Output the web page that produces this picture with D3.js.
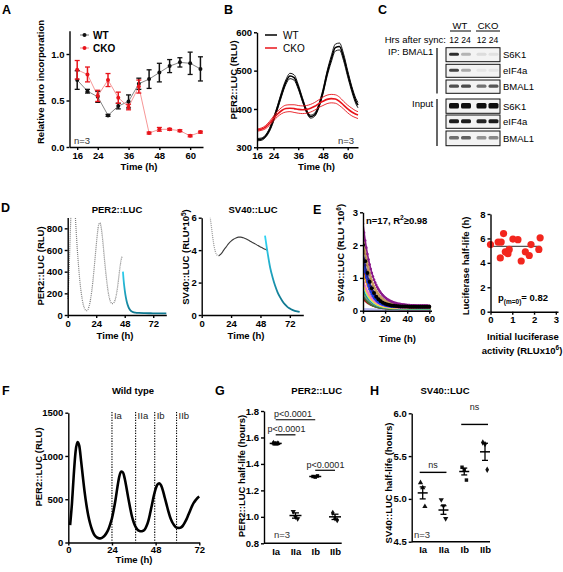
<!DOCTYPE html>
<html><head><meta charset="utf-8">
<script src="https://cdn.jsdelivr.net/npm/d3@7"></script>
<style>
body{margin:0;background:#fff}
.ax path,.ax line{stroke:#000;stroke-width:1.4}
.ax text{font-family:"Liberation Sans",Arial,sans-serif;font-weight:bold;font-size:9.5px;fill:#000}
</style>
</head><body><svg id="c" width="563" height="572"></svg>
<script>
// ---------- Panel A ----------
const aTime = [16,20,24,28,32,36,40,44,48,52,56,60,64];
const aWT = [0.72,0.60,0.54,0.34,0.44,0.49,0.68,0.73,0.80,0.87,0.91,0.90,0.84];
const aWTerr = [0.10,0.02,0.06,0.01,0.03,0.07,0.06,0.10,0.10,0.07,0.05,0.12,0.13];
const aCKO = [0.83,0.78,0.55,0.72,0.53,0.43,0.65,0.15,0.19,0.19,0.175,0.12,0.16];
const aCKOerr = [0.10,0.08,0.06,0.07,0.06,0.03,0.07,0.01,0.02,0.01,0.01,0.01,0.01];
const aXTicks = [16,24,36,48,60];
const aYTicks = [0,0.5,1.0];
// ---------- Panel B ----------
const bTime = [16,18,20,22,24,26,28,30,32,34,36,38,40,42,44,46,48,50,52,54,56,58,60,62,64,65];
const bWT = [320,321,328,345,372,405,440,470,486,482,458,425,395,380,385,408,445,492,530,560,563,535,492,452,420,410];
const bWTsem = [3,3,3,4,5,5,6,6,7,7,6,5,4,4,4,5,6,7,8,9,9,9,8,7,7,7];
const bCKO = [345,347,352,362,375,387,396,401,402,401,399,398,399,402,407,414,420,425,427,426,420,410,400,392,386,384];
const bCKOsem = [3,3,4,5,6,7,8,9,9,10,10,10,10,10,10,10,11,11,11,11,11,10,10,10,9,9];
const bXTicks = [16,24,36,48,60];
const bYTicks = [300,400,500,600];
// ---------- Panel C (band intensities, lanes WT12, WT24, CKO12, CKO24) ----------
const cRows = ["S6K1","eIF4a","BMAL1","S6K1","eIF4a","BMAL1"];
const cIntensity = [
  [0.85,0.25,0.07,0.05],
  [0.75,0.30,0.03,0.03],
  [0.70,0.72,0.55,0.68],
  [1.00,1.00,1.00,1.00],
  [0.92,0.92,0.88,0.92],
  [0.55,0.62,0.40,0.45]
];
const cLanes = ["12","24","12","24"];
// ---------- Panel D ----------
const dlT = [0,1,2,3,4,5,6,7,8,9,10,11,12,13,14,15,16,17,18,19,20,21,22,23,24,25,26,27,28,29,30,31,32,33,34,35,36,37,38,39,40,41,42,43,44,45,46];
const dlV = [150,350,700,1000,1200,1200,1000,800,620,470,340,240,160,100,65,45,40,50,80,130,200,290,400,520,640,750,830,850,820,740,630,510,400,300,220,160,125,108,105,115,140,190,260,350,440,510,545];
const dlDecayT = [46.5,47,48,49,50,51,52,53,54,55,57,60,65,70,75,83];
const dlDecayV = [400,330,230,160,110,78,55,40,32,27,22,19,17,16,15,15];
const drGrayT = [6.5,7,8,9,10,11,12,13,14];
const drGrayV = [6.4,6.0,5.4,4.8,4.3,3.95,3.75,3.67,3.65];
const drDarkT = [14,16,18,20,22,24,26,28,30,32,34,36,38,40,42,44,46,48,50,52,53.5];
const drDarkV = [3.65,3.78,4.0,4.2,4.4,4.55,4.67,4.75,4.8,4.8,4.76,4.7,4.62,4.53,4.45,4.37,4.28,4.2,4.12,4.05,4.0];
const drDecayT = [51.7,53,54,55,56,58,60,62,64,66,68,70,72,74,76,78,80];
const drDecayV = [4.9,4.25,3.75,3.3,2.9,2.3,1.8,1.4,1.1,0.85,0.65,0.5,0.4,0.32,0.26,0.22,0.19];
// ---------- Panel E ----------
const eInitAct = [0.0,0.35,0.45,0.49,0.6,0.68,0.75,0.8,0.86,1.03,1.26,1.41,1.6,1.78,1.86,2.22,2.28];
const eHalfLife = [5.5,5.7,4.4,5.7,6.4,4.9,4.85,4.75,5.1,5.95,5.9,4.15,4.9,4.6,5.5,5.1,6.05];
const eStart = [0.03,0.38,0.5,0.55,0.63,0.7,0.8,0.88,0.95,1.2,1.4,1.6,1.8,2.0,2.2,2.45,2.65];
const ePlateau = [0.02,0.05,0.06,0.06,0.07,0.07,0.08,0.08,0.09,0.1,0.1,0.11,0.12,0.12,0.13,0.14,0.15];
const eColors = ["#b8b8f2","#a81515","#3a7a3a","#8a8a8a","#22dd22","#20a0a0","#80d0f0","#f0f020","#f080c0","#f5a020","#ee2222","#1a3be8","#202080","#000000","#a06a3a","#c8a060","#8a1a8a"];
const eFitHL = 5.35;
// ---------- Panel F ----------
const fT = [1,2,3,4,5,6,7,8,9,10,11,12,13,14,15,16,17,18,19,20,21,22,23,24,25,26,27,28,29,30,31,32,33,34,35,36,37,38,39,40,41,42,43,44,45,46,47,48,49,50,51,52,53,54,55,56,57,58,59,60,61,62,63,64,65,66,67,68,69,70,71,72];
const fV = [200,450,780,1050,1160,1120,950,760,580,430,310,220,150,100,70,55,48,50,60,80,110,150,210,280,380,500,640,760,820,810,740,630,510,400,300,230,180,150,135,130,135,150,190,250,340,440,540,620,670,685,660,600,520,440,360,290,240,205,180,170,168,175,195,230,270,320,370,420,460,490,515,530];
const fPhases = ["Ia","IIa","Ib","IIb"];
const fPhaseT = [24,37,47.5,59.5];
// ---------- Panels G, H ----------
const ghCats = ["Ia","IIa","Ib","IIb"];
const gMean = [1.555,1.01,1.305,1.0];
const gErr = [0.01,0.02,0.004,0.02];
const gPts = [[1.56,1.55,1.555],[1.04,1.00,0.985],[1.305,1.30,1.31],[1.03,0.99,0.975]];
const hMean = [5.07,4.87,5.32,5.55];
const hErr = [0.07,0.05,0.04,0.1];
const hPts = [[5.19,5.13,4.91],[4.99,4.92,4.77],[5.37,5.34,5.22],[5.66,5.64,5.34]];

// =====================================================
const svg = d3.select('#c');
svg.append('rect').attr('width',563).attr('height',572).attr('fill','#fff');
const FONT = '"Liberation Sans", Arial, Helvetica, sans-serif';
function label(x,y,s,o={}){
  return svg.append('text').attr('x',x).attr('y',y).attr('font-family',FONT)
    .attr('font-size',o.size||9.5).attr('font-weight',o.bold===false?'normal':'bold')
    .attr('text-anchor',o.anchor||'start').attr('fill',o.fill||'#000').text(s);
}
function ylabel(cx,cy,s,o={}){
  return svg.append('text').attr('transform',`translate(${cx},${cy}) rotate(-90)`).attr('dy','0.35em')
    .attr('font-family',FONT).attr('font-size',o.size||9.5).attr('font-weight','bold')
    .attr('text-anchor','middle').text(s);
}
function axes(x,y,xt,yt,xf,yf,pad){
  const xa=d3.axisBottom(x).tickValues(xt).tickSize(3).tickSizeOuter(0).tickPadding(pad??2);
  if(xf) xa.tickFormat(xf);
  svg.append('g').attr('class','ax').attr('transform',`translate(0,${y.range()[0]})`).call(xa);
  const ya=d3.axisLeft(y).tickValues(yt).tickSize(3).tickSizeOuter(0).tickPadding(2);
  if(yf) ya.tickFormat(yf);
  svg.append('g').attr('class','ax').attr('transform',`translate(${x.range()[0]},0)`).call(ya);
}
function letter(x,y,s){ label(x,y,s,{size:12.5}); }
const defs = svg.append('defs');
defs.append('filter').attr('id','blur').append('feGaussianBlur').attr('stdDeviation',0.6);

// ---------------- A ----------------
{
  const x=d3.scaleLinear([13,65],[69.5,203]);
  const y=d3.scaleLinear([0,1.25],[147,30.75]);
  letter(2,13.5,'A');
  const line=d3.line().x((d,i)=>x(aTime[i])).y(d=>y(d));
  svg.append('path').attr('d',line(aWT)).attr('fill','none').attr('stroke','#777').attr('stroke-width',0.9);
  svg.append('path').attr('d',line(aCKO)).attr('fill','none').attr('stroke','#f58a8a').attr('stroke-width',0.9);
  const drawErr=(vals,errs,col)=>{
    vals.forEach((v,i)=>{
      const xx=x(aTime[i]);
      svg.append('line').attr('x1',xx).attr('x2',xx).attr('y1',y(v-errs[i])).attr('y2',y(v+errs[i])).attr('stroke',col).attr('stroke-width',1.5);
      [v-errs[i],v+errs[i]].forEach(e=>svg.append('line').attr('x1',xx-2.5).attr('x2',xx+2.5).attr('y1',y(e)).attr('y2',y(e)).attr('stroke',col).attr('stroke-width',1.3));
      svg.append('circle').attr('cx',xx).attr('cy',y(v)).attr('r',2).attr('fill',col);
    });
  };
  drawErr(aWT,aWTerr,'#111');
  drawErr(aCKO,aCKOerr,'#e8141b');
  axes(x,y,aXTicks,aYTicks,d3.format('d'),d3.format('.1f'));
  svg.append('line').attr('x1',80).attr('x2',89).attr('y1',35).attr('y2',35).attr('stroke','#777');
  svg.append('circle').attr('cx',84.5).attr('cy',35).attr('r',2).attr('fill','#111');
  label(93,38.5,'WT',{size:10});
  svg.append('line').attr('x1',80).attr('x2',89).attr('y1',48).attr('y2',48).attr('stroke','#f58a8a');
  svg.append('circle').attr('cx',84.5).attr('cy',48).attr('r',2).attr('fill','#e8141b');
  label(93,51.5,'CKO',{size:10});
  label(74,144,'n=3',{bold:false,fill:'#333'});
  ylabel(41,82,'Relative puro incorporation');
  label(139,170,'Time (h)',{anchor:'middle'});
}
// ---------------- B ----------------
{
  const x=d3.scaleLinear([16,65],[257,358]);
  const y=d3.scaleLinear([300,600],[147.3,32.3]);
  letter(224,13.5,'B');
  const mk=(vals,sem,sign)=>d3.line().curve(d3.curveMonotoneX).x((d,i)=>x(bTime[i])).y((d,i)=>y(vals[i]+sign*sem[i]))(vals);
  [[bWT,bWTsem,'#000'],[bCKO,bCKOsem,'#e8141b']].forEach(([v,s,c])=>{
    svg.append('path').attr('d',mk(v,s,1)).attr('fill','none').attr('stroke',c).attr('stroke-width',0.9);
    svg.append('path').attr('d',mk(v,s,-1)).attr('fill','none').attr('stroke',c).attr('stroke-width',0.9);
    svg.append('path').attr('d',mk(v,s,0)).attr('fill','none').attr('stroke',c).attr('stroke-width',1.6);
  });
  axes(x,y,bXTicks,bYTicks,d3.format('d'),d3.format('d'));
  svg.append('line').attr('x1',265).attr('x2',277).attr('y1',35).attr('y2',35).attr('stroke','#000').attr('stroke-width',1.5);
  label(283,38.5,'WT',{bold:false,size:10});
  svg.append('line').attr('x1',265).attr('x2',277).attr('y1',48).attr('y2',48).attr('stroke','#e8141b').attr('stroke-width',1.5);
  label(283,51.5,'CKO',{bold:false,size:10});
  label(354,144,'n=3',{bold:false,anchor:'end',fill:'#333'});
  ylabel(234,80,'PER2::LUC (RLU)');
  label(316.5,170,'Time (h)',{anchor:'middle'});
}
// ---------------- C ----------------
{
  letter(378,13.5,'C');
  const lx=[454,466,481.5,493.5];
  label(460,28.5,'WT',{bold:false,anchor:'middle'});
  label(488,28.5,'CKO',{bold:false,anchor:'middle'});
  svg.append('line').attr('x1',450).attr('x2',471).attr('y1',31).attr('y2',31).attr('stroke','#000');
  svg.append('line').attr('x1',476).attr('x2',500).attr('y1',31).attr('y2',31).attr('stroke','#000');
  label(446,43,'Hrs after sync:',{bold:false,anchor:'end'});
  cLanes.forEach((s,i)=>label(lx[i],43,s,{bold:false,anchor:'middle',size:8.6}));
  label(388,55,'IP: BMAL1',{bold:false});
  label(412,107,'Input',{bold:false});
  svg.append('line').attr('x1',437).attr('x2',437).attr('y1',48).attr('y2',93.5).attr('stroke','#000').attr('stroke-width',1.2);
  svg.append('line').attr('x1',437).attr('x2',437).attr('y1',99).attr('y2',146).attr('stroke','#000').attr('stroke-width',1.2);
  const boxes=[[47.7,61.7,3],[64.3,77.3,3],[80,93.3,3.2],[99,113.3,5.5],[115,128.3,4],[131,145.7,3.5]];
  const col=d3.interpolateRgb('#ececec','#0c0c0c');
  boxes.forEach(([y0,y1,h],r)=>{
    svg.append('rect').attr('x',446).attr('y',y0).attr('width',54).attr('height',y1-y0).attr('fill','#f3f3f3').attr('stroke','#111').attr('stroke-width',1);
    const cy=(y0+y1)/2-0.5;
    cIntensity[r].forEach((v,i)=>{
      svg.append('rect').attr('x',lx[i]-5).attr('y',cy-h/2).attr('width',10).attr('height',h).attr('rx',1.5)
        .attr('fill',col(v)).attr('filter','url(#blur)');
    });
    label(503,(y0+y1)/2+3.5,cRows[r],{bold:false});
  });
}
// ---------------- D ----------------
{
  letter(1,212,'D');
  const x=d3.scaleLinear([0,83],[67.7,166.3]);
  const y=d3.scaleLinear([0,900],[315,217.5]);
  defs.append('clipPath').attr('id','clipDL').append('rect').attr('x',67).attr('y',217.5).attr('width',100).attr('height',98);
  const ln=d3.line().curve(d3.curveMonotoneX);
  svg.append('path').attr('clip-path','url(#clipDL)').attr('d',ln(dlT.map((t,i)=>[x(t),y(dlV[i])]))).attr('fill','none')
    .attr('stroke','#7c7c7c').attr('stroke-width',1.2).attr('stroke-dasharray','1,1');
  const grad=defs.append('linearGradient').attr('id','gDL').attr('gradientUnits','userSpaceOnUse').attr('x1',0).attr('x2',0).attr('y1',270).attr('y2',312);
  grad.append('stop').attr('offset',0).attr('stop-color','#2fd2f2');
  grad.append('stop').attr('offset',1).attr('stop-color','#117a92');
  svg.append('path').attr('d',ln(dlDecayT.map((t,i)=>[x(t),y(dlDecayV[i])]))).attr('fill','none').attr('stroke','url(#gDL)').attr('stroke-width',1.8);
  axes(x,y,[0,24,48,72],[0,200,400,600,800],d3.format('d'),d3.format('d'));
  label(117,212.5,'PER2::LUC',{anchor:'middle'});
  ylabel(41,266,'PER2::LUC (RLU)');
  label(115,338.5,'Time (h)',{anchor:'middle'});

  const x2=d3.scaleLinear([0,83],[201.7,303.3]);
  const y2=d3.scaleLinear([0,6],[315,217.7]);
  defs.append('clipPath').attr('id','clipDR').append('rect').attr('x',201).attr('y',217.7).attr('width',103).attr('height',98);
  svg.append('path').attr('clip-path','url(#clipDR)').attr('d',ln(drGrayT.map((t,i)=>[x2(t),y2(drGrayV[i])]))).attr('fill','none')
    .attr('stroke','#999').attr('stroke-width',1.2).attr('stroke-dasharray','1,1');
  svg.append('path').attr('d',ln(drDarkT.map((t,i)=>[x2(t),y2(drDarkV[i])]))).attr('fill','none').attr('stroke','#3a3a3a').attr('stroke-width',1.1);
  const grad2=defs.append('linearGradient').attr('id','gDR').attr('gradientUnits','userSpaceOnUse').attr('x1',0).attr('x2',0).attr('y1',240).attr('y2',300);
  grad2.append('stop').attr('offset',0).attr('stop-color','#2fd2f2');
  grad2.append('stop').attr('offset',1).attr('stop-color','#117a92');
  svg.append('path').attr('d',ln(drDecayT.map((t,i)=>[x2(t),y2(drDecayV[i])]))).attr('fill','none').attr('stroke','url(#gDR)').attr('stroke-width',1.8);
  axes(x2,y2,[0,24,48,72],[0,2,4,6],d3.format('d'),d3.format('d'));
  label(253,212.5,'SV40::LUC',{anchor:'middle'});
  const t=svg.append('text').attr('transform','translate(186,257) rotate(-90)').attr('dy','0.35em')
    .attr('font-family',FONT).attr('font-size',9.5).attr('font-weight','bold').attr('text-anchor','middle');
  t.append('tspan').text('SV40::LUC (RLU*10');
  t.append('tspan').attr('font-size',6.5).attr('dy','-3.5').text('5');
  t.append('tspan').attr('dy','3.5').text(')');
  label(246,338.5,'Time (h)',{anchor:'middle'});
}
// ---------------- E ----------------
{
  letter(313,213.5,'E');
  const x=d3.scaleLinear([0,62],[363,431.5]);
  const y=d3.scaleLinear([0,3],[310.7,212.3]);
  defs.append('clipPath').attr('id','clipE').append('rect').attr('x',363).attr('y',212).attr('width',70).attr('height',99);
  const g=svg.append('g').attr('clip-path','url(#clipE)');
  const tt=d3.range(0,61,1);
  eStart.forEach((s,i)=>{
    if(i===13) return;
    const f=t=>ePlateau[i]+(s-ePlateau[i])*Math.pow(0.5,t/eHalfLife[i]);
    g.append('path').attr('d',d3.line()(tt.map(t=>[x(t),y(f(t))]))).attr('fill','none').attr('stroke',eColors[i]).attr('stroke-width',i===0?3:1.6);
    g.selectAll(null).data(tt).enter().append('circle').attr('cx',t=>x(t)).attr('cy',t=>y(f(t))).attr('r',1.3).attr('fill',eColors[i]);
  });
  {
    const i=13, s=eStart[i];
    const f=t=>ePlateau[i]+(s-ePlateau[i])*Math.pow(0.5,t/eHalfLife[i]);
    g.selectAll(null).data(d3.range(0,61,2)).enter().append('circle').attr('cx',t=>x(t)).attr('cy',t=>y(f(t))).attr('r',2).attr('fill','#000');
  }
  axes(x,y,[0,20,40,60],[0,1,2,3],d3.format('d'),d3.format('d'));
  const tx=svg.append('text').attr('x',366).attr('y',223.5).attr('font-family',FONT).attr('font-size',9.5).attr('font-weight','bold');
  tx.append('tspan').text('n=17, R');
  tx.append('tspan').attr('font-size',6.5).attr('dy',-3.5).text('2');
  tx.append('tspan').attr('dy',3.5).text('≥0.98');
  const t=svg.append('text').attr('transform','translate(341,253) rotate(-90)').attr('dy','0.35em')
    .attr('font-family',FONT).attr('font-size',9.5).attr('font-weight','bold').attr('text-anchor','middle');
  t.append('tspan').text('SV40::LUC (RLU *10');
  t.append('tspan').attr('font-size',6.5).attr('dy','-3.5').text('6');
  t.append('tspan').attr('dy','3.5').text(')');
  label(397.5,341.5,'Time (h)',{anchor:'middle'});

  const x2=d3.scaleLinear([0,3.1],[490.5,558]);
  const y2=d3.scaleLinear([0,8],[311.7,214]);
  svg.append('line').attr('x1',x2(0)).attr('x2',x2(2.3)).attr('y1',y2(eFitHL)).attr('y2',y2(eFitHL)).attr('stroke','#555').attr('stroke-width',1.4);
  eInitAct.forEach((v,i)=>svg.append('circle').attr('cx',x2(v)).attr('cy',y2(eHalfLife[i])).attr('r',3.6).attr('fill','#f2261e'));
  axes(x2,y2,[0,1,2,3],[0,2,4,6,8],d3.format('d'),d3.format('d'));
  const p=svg.append('text').attr('x',498).attr('y',301).attr('font-family',FONT).attr('font-size',9.5).attr('font-weight','bold');
  p.append('tspan').text('p');
  p.append('tspan').attr('font-size',6.5).attr('dy',2.5).text('(m=0)');
  p.append('tspan').attr('dy',-2.5).text('= 0.82');
  ylabel(466,266,'Luciferase half-life (h)');
  label(523,340,'Initial luciferase',{anchor:'middle'});
  const a=svg.append('text').attr('x',522).attr('y',353.5).attr('font-family',FONT).attr('font-size',9.5).attr('font-weight','bold').attr('text-anchor','middle');
  a.append('tspan').text('activity (RLUx10');
  a.append('tspan').attr('font-size',6.5).attr('dy',-3.5).text('6');
  a.append('tspan').attr('dy',3.5).text(')');
}
// ---------------- F ----------------
{
  letter(2,395,'F');
  const x=d3.scaleLinear([0,72],[68.3,199.3]);
  const y=d3.scaleLinear([0,1500],[542.5,412.7]);
  fPhaseT.forEach((t,i)=>{
    svg.append('line').attr('x1',x(t)).attr('x2',x(t)).attr('y1',412).attr('y2',542.5).attr('stroke','#000').attr('stroke-width',1.1).attr('stroke-dasharray','1.3,1.3');
    label(x(t)+2,419,fPhases[i],{bold:false,size:9.5,fill:'#222'});
  });
  const ln=d3.line().curve(d3.curveMonotoneX).x((d,i)=>x(fT[i])).y(d=>y(d));
  svg.append('path').attr('d',ln(fV)).attr('fill','none').attr('stroke','#000').attr('stroke-width',2.6);
  axes(x,y,[0,24,48,72],[0,500,1000,1500],d3.format('d'),d3.format('d'),1);
  label(133,393.5,'Wild type',{anchor:'middle'});
  ylabel(39,467,'PER2::LUC (RLU)');
  label(134,563,'Time (h)',{anchor:'middle'});
}
// ---------------- G / H ----------------
function dotPanel(opt){
  const {cx0,cx1,axX0,axX1,yDom,yRange,yTicks,means,errs,pts,mw,ww}=opt;
  const x=d3.scalePoint(ghCats,[cx0,cx1]);
  const y=d3.scaleLinear(yDom,yRange);
  const shapes=[d3.symbolTriangle,d3.symbolTriangle,d3.symbolSquare,d3.symbolDiamond];
  pts.forEach((arr,i)=>arr.forEach((v,j)=>{
    svg.append('path').attr('d',d3.symbol(shapes[i],12)()).attr('fill','#111')
      .attr('transform',`translate(${x(ghCats[i])+(j-1)*2.2},${y(v)}) rotate(${i===1?180:0})`);
  }));
  means.forEach((m,i)=>{
    const cx=x(ghCats[i]);
    svg.append('line').attr('x1',cx-mw).attr('x2',cx+mw).attr('y1',y(m)).attr('y2',y(m)).attr('stroke','#000').attr('stroke-width',1.5);
    svg.append('line').attr('x1',cx).attr('x2',cx).attr('y1',y(m-errs[i])).attr('y2',y(m+errs[i])).attr('stroke','#000').attr('stroke-width',1.3);
    [m-errs[i],m+errs[i]].forEach(e=>svg.append('line').attr('x1',cx-ww).attr('x2',cx+ww).attr('y1',y(e)).attr('y2',y(e)).attr('stroke','#000').attr('stroke-width',1.3));
  });
  const gx=svg.append('g').attr('class','ax').attr('transform',`translate(0,${yRange[0]})`).call(d3.axisBottom(x).tickSize(0).tickPadding(5));
  gx.select('.domain').remove();
  svg.append('line').attr('x1',axX0).attr('x2',axX1).attr('y1',yRange[0]).attr('y2',yRange[0]).attr('stroke','#000').attr('stroke-width',1.4);
  svg.append('g').attr('class','ax').attr('transform',`translate(${axX0},0)`).call(d3.axisLeft(y).tickValues(yTicks).tickFormat(d3.format('.1f')).tickSize(3).tickSizeOuter(0).tickPadding(2));
  return {x,y};
}
{
  letter(215,395,'G');
  const {x,y}=dotPanel({cx0:275.7,cx1:335,axX0:264,axX1:341.7,yDom:[0.8,1.8],yRange:[543.3,411],yTicks:[0.8,1.0,1.2,1.4,1.6,1.8],means:gMean,errs:gErr,pts:gPts,mw:6,ww:3.5});
  const sig=(a,b,v,tx,ty)=>{
    svg.append('line').attr('x1',x(a)).attr('x2',x(b)).attr('y1',y(v)).attr('y2',y(v)).attr('stroke','#000').attr('stroke-width',1.2);
    label(tx,ty,'p<0.0001',{bold:false,anchor:'middle',size:9,fill:'#222'});
  };
  sig('Ia','Ib',1.734,293,417);
  sig('Ia','IIa',1.62,286.5,432);
  sig('Ib','IIb',1.352,325.5,467.5);
  label(316.7,393.5,'PER2::LUC',{anchor:'middle'});
  ylabel(241.5,476,'PER2::LUC half-life (hours)');
  label(274,537.5,'n=3',{bold:false,fill:'#333'});
}
{
  letter(370,395,'H');
  const {x,y}=dotPanel({cx0:422.7,cx1:485,axX0:411.7,axX1:490,yDom:[4.5,6.0],yRange:[541.7,413.3],yTicks:[4.5,5.0,5.5,6.0],means:hMean,errs:hErr,pts:hPts,mw:5,ww:3});
  const ns=(a,b,v,ty)=>{
    svg.append('line').attr('x1',x(a)-3).attr('x2',x(b)+3).attr('y1',y(v)).attr('y2',y(v)).attr('stroke','#000').attr('stroke-width',1.4);
    label((x(a)+x(b))/2,ty,'ns',{bold:false,anchor:'middle',size:9,fill:'#222'});
  };
  ns('Ia','IIa',5.31,467.5);
  ns('Ib','IIb',5.87,410);
  label(445,393.5,'SV40::LUC',{anchor:'middle'});
  ylabel(389,483,'SV40::LUC half-life (hours)');
  label(414,537.5,'n=3',{bold:false,fill:'#333'});
}
</script></body></html>
